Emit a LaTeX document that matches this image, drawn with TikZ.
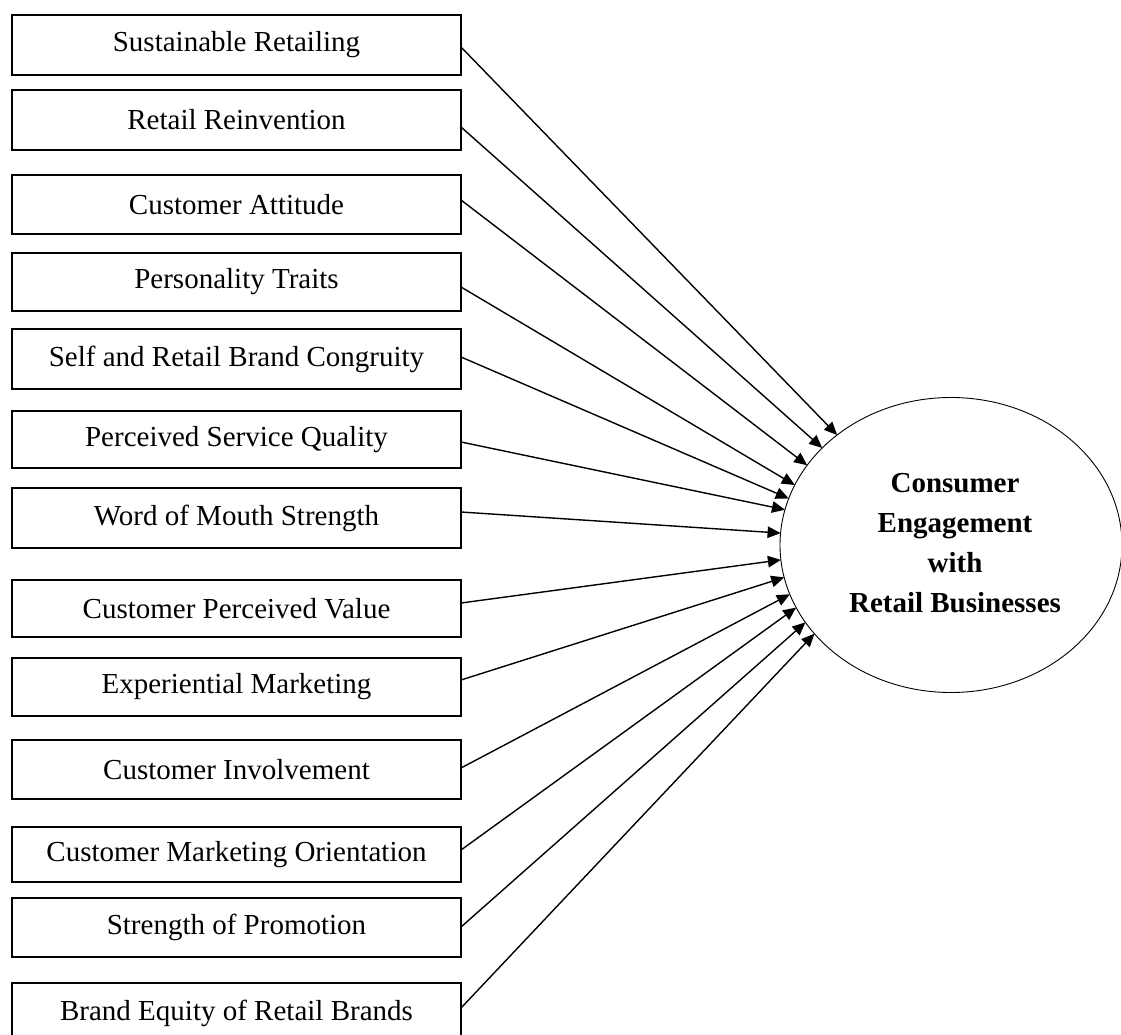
\documentclass[tikz,border=0pt]{standalone}
\usepackage{fontspec}
\setmainfont{Liberation Serif}
\usetikzlibrary{arrows.meta,shapes.geometric}
\begin{document}
\begin{tikzpicture}[x=1pt,y=1pt,
  factor/.style={draw, line width=1.6pt, minimum width=449pt, minimum height=59pt,
    inner sep=0pt, outer sep=0pt, font=\fontsize{29}{34}\selectfont},
  target/.style={draw, ellipse, line width=0.9pt, minimum width=342pt, minimum height=295pt,
    inner sep=0pt, outer sep=0pt},
  targettext/.style={align=center, inner sep=0pt, font=\fontsize{29}{40}\selectfont\bfseries},
  link/.style={line width=1.4pt, -{Triangle[length=13pt,width=11.5pt]}}]
\clip (0,0) rectangle (1121,-1035);
\useasboundingbox (0,0) rectangle (1121,-1035);

\node[factor, minimum height=60pt] (b1)  at (236.5,-45)    {Sustainable Retailing};
\node[factor, minimum height=60pt] (b2)  at (236.5,-120)   {Retail Reinvention};
\node[factor] (b3)  at (236.5,-204.5) {Customer Attitude};
\node[factor, minimum height=58pt] (b4)  at (236.5,-282)   {Personality Traits};
\node[factor, minimum height=60pt] (b5)  at (236.5,-359)   {Self and Retail Brand Congruity};
\node[factor, minimum height=57pt] (b6)  at (236.5,-439.5) {Perceived Service Quality};
\node[factor, minimum height=60pt] (b7)  at (236.5,-518)   {Word of Mouth Strength};
\node[factor, minimum height=57pt] (b8)  at (236.5,-608.5) {Customer Perceived Value};
\node[factor, minimum height=58pt] (b9)  at (236.5,-687)   {Experiential Marketing};
\node[factor] (b10) at (236.5,-769.5) {Customer Involvement};
\node[factor, minimum height=55pt] (b11) at (236.5,-854.5) {Customer Marketing Orientation};
\node[factor] (b12) at (236.5,-927.5) {Strength of Promotion};
\node[factor, minimum height=60pt] (b13) at (236.5,-1013)  {Brand Equity of Retail Brands};

\node[target] (ce) at (951,-545) {};
\node[targettext] (cet) at (955,-543) {Consumer\\Engagement\\with\\Retail Businesses};

\draw[link] ([yshift=-2pt]b1.east)   -- (ce.136.8);
\draw[link] ([yshift=-7pt]b2.east)   -- (ce.143.9);
\draw[link] ([yshift=4.5pt]b3.east)  -- (ce.151.4);
\draw[link] ([yshift=-5pt]b4.east)   -- (ce.159.0);
\draw[link] ([yshift=2pt]b5.east)    -- (ce.164.5);
\draw[link] ([yshift=-2.5pt]b6.east) -- (ce.168.4);
\draw[link] ([yshift=6pt]b7.east)    -- (ce.176.7);
\draw[link] ([yshift=5.5pt]b8.east)  -- (ce.185.0);
\draw[link] ([yshift=7pt]b9.east)    -- (ce.191.6);
\draw[link] ([yshift=1.5pt]b10.east) -- (ce.197.1);
\draw[link] ([yshift=4.5pt]b11.east) -- (ce.202.6);
\draw[link] ([yshift=0.5pt]b12.east) -- (ce.208.8);
\draw[link] ([yshift=5pt]b13.east)   -- (ce.213.3);
\end{tikzpicture}
\end{document}
